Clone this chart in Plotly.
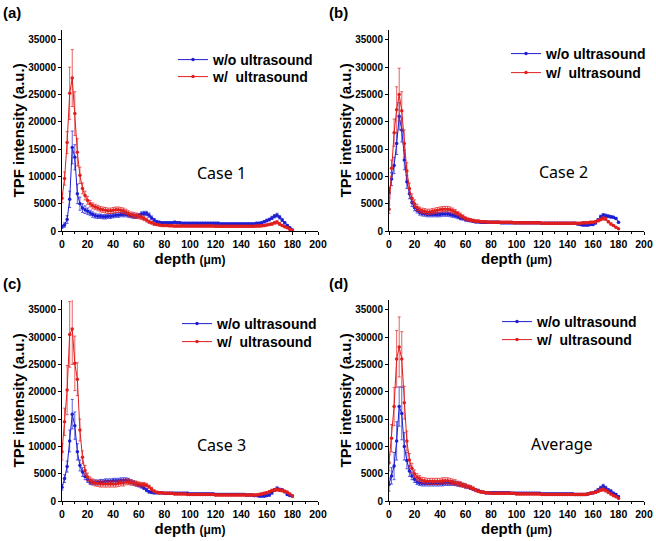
import plotly.graph_objects as go
from plotly.subplots import make_subplots

depth = list(range(0, 182, 2))

# panel (a) Case 1
a_wo = [800, 1100, 2100, 5800, 15300, 13500, 6800, 5000, 4200, 3900,
        3600, 3300, 3000, 2800, 2700, 2700, 2600, 2600, 2700, 2700,
        2800, 2900, 2900, 3000, 3000, 3000, 2900, 2800, 2700, 2700,
        2800, 3100, 3200, 3200, 2900, 2400, 2000, 1700, 1600, 1500,
        1500, 1500, 1500, 1500, 1600, 1500, 1500, 1400, 1400, 1400,
        1400, 1400, 1400, 1400, 1400, 1400, 1400, 1400, 1400, 1400,
        1400, 1400, 1300, 1300, 1300, 1300, 1300, 1300, 1300, 1300,
        1300, 1300, 1300, 1300, 1300, 1300, 1400, 1400, 1500, 1700,
        1900, 2100, 2400, 2700, 2900, 2500, 2000, 1500, 1000, 600,
        200]
a_wo_err = [300, 400, 700, 1500, 3000, 2300, 1800, 1200, 800, 700,
            600, 500, 500, 450, 400, 400, 400, 400, 400, 400,
            400, 400, 400, 400, 400, 400, 400, 400, 400, 400,
            400, 400, 400, 400, 400, 350, 300, 250, 200, 200,
            200, 200, 200, 200, 200, 200, 200, 200, 200, 200,
            200, 200, 200, 200, 200, 200, 200, 200, 200, 200,
            200, 200, 200, 200, 200, 200, 200, 200, 200, 200,
            200, 200, 200, 200, 200, 200, 200, 200, 200, 200,
            250, 250, 300, 300, 350, 300, 250, 200, 200, 150,
            100]
a_w = [6000, 9600, 16200, 25200, 28000, 21500, 14400, 10200, 7800, 6500,
       5600, 5000, 4600, 4400, 4200, 4000, 3900, 3800, 3700, 3700,
       3800, 3900, 3900, 3800, 3700, 3500, 3200, 3000, 2900, 2800,
       2700, 2500, 2300, 2000, 1700, 1500, 1300, 1200, 1100, 1000,
       1000, 1000, 950, 950, 900, 900, 900, 900, 900, 900,
       900, 900, 900, 900, 900, 900, 900, 900, 900, 900,
       850, 850, 850, 850, 850, 850, 850, 850, 850, 850,
       850, 850, 850, 850, 850, 850, 900, 900, 950, 1000,
       1100, 1200, 1300, 1500, 1600, 1300, 1000, 800, 600, 300,
       100]
a_w_err = [800, 1200, 2000, 4800, 5200, 4000, 2500, 1500, 1000, 800,
           700, 600, 550, 500, 500, 500, 500, 500, 500, 500,
           500, 500, 500, 500, 500, 500, 500, 500, 500, 500,
           450, 400, 400, 350, 300, 250, 250, 200, 200, 200,
           200, 200, 200, 200, 200, 200, 200, 200, 200, 200,
           200, 200, 200, 200, 200, 200, 200, 200, 200, 200,
           200, 200, 200, 200, 200, 200, 200, 200, 200, 200,
           200, 200, 200, 200, 200, 200, 200, 200, 200, 200,
           200, 200, 250, 250, 300, 250, 200, 200, 150, 100,
           100]

# panel (b) Case 2
b_wo = [7000, 9500, 12000, 16000, 21000, 18500, 13000, 9000, 6800, 5200,
        4300, 3800, 3400, 3200, 3100, 3000, 3000, 3000, 3000, 3000,
        3000, 3100, 3100, 3100, 3000, 2900, 2800, 2600, 2400, 2300,
        2100, 2000, 1900, 1800, 1700, 1700, 1600, 1600, 1600, 1600,
        1600, 1600, 1600, 1600, 1500, 1500, 1500, 1500, 1500, 1500,
        1500, 1500, 1500, 1500, 1500, 1500, 1500, 1500, 1500, 1500,
        1400, 1400, 1400, 1400, 1400, 1400, 1400, 1400, 1400, 1400,
        1400, 1400, 1400, 1400, 1300, 1200, 1100, 1100, 1100, 1200,
        1200, 1500, 2000, 2600, 2900, 2800, 2700, 2600, 2500, 2300,
        1600]
b_wo_err = [1000, 1200, 1500, 2000, 2500, 2200, 1800, 1200, 900, 700,
            600, 500, 500, 450, 400, 400, 400, 400, 400, 400,
            400, 400, 400, 400, 400, 400, 400, 350, 350, 300,
            300, 300, 250, 250, 250, 250, 200, 200, 200, 200,
            200, 200, 200, 200, 200, 200, 200, 200, 200, 200,
            200, 200, 200, 200, 200, 200, 200, 200, 200, 200,
            200, 200, 200, 200, 200, 200, 200, 200, 200, 200,
            200, 200, 200, 200, 200, 200, 200, 200, 200, 200,
            200, 250, 250, 300, 300, 300, 250, 250, 200, 200,
            150]
b_w = [4000, 11500, 18000, 22200, 25000, 22000, 16000, 11000, 7800, 6000,
       5000, 4300, 3900, 3700, 3600, 3500, 3500, 3600, 3700, 3800,
       3900, 4000, 4000, 4000, 3900, 3700, 3500, 3200, 2900, 2600,
       2300, 2100, 2000, 1900, 1800, 1800, 1700, 1700, 1700, 1600,
       1600, 1600, 1600, 1600, 1600, 1600, 1600, 1600, 1600, 1500,
       1500, 1500, 1500, 1500, 1500, 1500, 1500, 1500, 1500, 1500,
       1400, 1400, 1400, 1400, 1400, 1400, 1400, 1400, 1400, 1400,
       1400, 1400, 1400, 1400, 1400, 1400, 1500, 1500, 1500, 1600,
       1600, 1700, 1900, 2100, 2300, 2200, 1700, 1300, 1000, 700,
       400]
b_w_err = [800, 1500, 2500, 4200, 4800, 3500, 2500, 1500, 1000, 800,
           700, 600, 500, 500, 500, 500, 500, 500, 500, 500,
           500, 500, 500, 500, 500, 500, 450, 400, 400, 350,
           300, 300, 250, 250, 250, 250, 200, 200, 200, 200,
           200, 200, 200, 200, 200, 200, 200, 200, 200, 200,
           200, 200, 200, 200, 200, 200, 200, 200, 200, 200,
           200, 200, 200, 200, 200, 200, 200, 200, 200, 200,
           200, 200, 200, 200, 200, 200, 200, 200, 200, 200,
           200, 200, 250, 250, 300, 250, 200, 200, 150, 100,
           100]

# panel (c) Case 3
c_wo = [2500, 4100, 6300, 11000, 15900, 13800, 9000, 6500, 5300, 4500,
        3900, 3500, 3400, 3400, 3400, 3500, 3500, 3600, 3600, 3600,
        3700, 3700, 3700, 3800, 3800, 3800, 3700, 3500, 3300, 3100,
        2900, 2700, 2400, 2000, 1700, 1600, 1500, 1500, 1500, 1500,
        1400, 1400, 1400, 1400, 1400, 1400, 1400, 1400, 1400, 1400,
        1300, 1300, 1300, 1300, 1300, 1300, 1300, 1300, 1300, 1300,
        1200, 1200, 1200, 1200, 1200, 1200, 1200, 1200, 1200, 1200,
        1200, 1200, 1100, 1100, 1100, 1000, 1000, 900, 900, 900,
        1000, 1100, 1500, 2000, 2300, 2100, 2000, 1700, 1200, 1000,
        900]
c_wo_err = [500, 700, 1000, 2000, 2700, 2500, 1500, 1000, 800, 600,
            500, 500, 450, 450, 450, 450, 450, 450, 450, 450,
            450, 450, 450, 450, 450, 450, 450, 400, 400, 400,
            350, 350, 300, 300, 250, 250, 200, 200, 200, 200,
            200, 200, 200, 200, 200, 200, 200, 200, 200, 200,
            200, 200, 200, 200, 200, 200, 200, 200, 200, 200,
            200, 200, 200, 200, 200, 200, 200, 200, 200, 200,
            200, 200, 200, 200, 200, 200, 200, 200, 200, 200,
            200, 200, 250, 250, 300, 250, 250, 200, 200, 150,
            150]
c_w = [9000, 14500, 20300, 30500, 31500, 25200, 22300, 13000, 8000, 5600,
       4400, 3800, 3500, 3300, 3200, 3100, 3100, 3100, 3100, 3100,
       3100, 3100, 3200, 3300, 3300, 3500, 3500, 3400, 3300, 3200,
       3100, 3000, 3000, 2900, 2600, 2200, 1800, 1600, 1500, 1500,
       1400, 1400, 1400, 1400, 1300, 1300, 1300, 1300, 1300, 1200,
       1200, 1200, 1200, 1200, 1200, 1200, 1200, 1200, 1200, 1200,
       1100, 1100, 1100, 1100, 1100, 1100, 1100, 1100, 1100, 1100,
       1100, 1100, 1100, 1100, 1100, 1100, 1100, 1200, 1300, 1400,
       1500, 1700, 1900, 2000, 2100, 2000, 1900, 1800, 1600, 1300,
       900]
c_w_err = [1500, 2500, 4500, 6000, 6500, 5000, 3000, 2000, 1200, 900,
           700, 600, 550, 550, 550, 550, 550, 550, 550, 550,
           550, 550, 550, 550, 550, 550, 500, 500, 450, 450,
           400, 400, 400, 350, 300, 300, 250, 200, 200, 200,
           200, 200, 200, 200, 200, 200, 200, 200, 200, 200,
           200, 200, 200, 200, 200, 200, 200, 200, 200, 200,
           200, 200, 200, 200, 200, 200, 200, 200, 200, 200,
           200, 200, 200, 200, 200, 200, 200, 200, 200, 200,
           200, 200, 250, 250, 300, 250, 250, 200, 200, 150,
           150]

# panel (d) Average
d_wo = [3000, 4600, 6400, 11000, 17300, 16000, 10000, 7400, 5500, 4600,
        4000, 3500, 3300, 3200, 3200, 3200, 3200, 3200, 3200, 3200,
        3200, 3200, 3300, 3300, 3300, 3300, 3200, 3100, 3000, 2900,
        2700, 2600, 2400, 2200, 2000, 1900, 1700, 1600, 1500, 1500,
        1500, 1500, 1500, 1500, 1500, 1500, 1500, 1500, 1400, 1400,
        1400, 1400, 1400, 1400, 1400, 1400, 1400, 1400, 1400, 1400,
        1300, 1300, 1300, 1300, 1300, 1300, 1300, 1300, 1300, 1300,
        1300, 1300, 1300, 1200, 1200, 1200, 1200, 1200, 1300, 1400,
        1500, 1700, 2000, 2400, 2700, 2400, 2000, 1800, 1400, 1200,
        800]
d_wo_err = [1200, 1500, 2500, 3500, 3600, 4800, 2500, 1500, 1000, 700,
            600, 500, 450, 450, 450, 450, 450, 450, 450, 450,
            450, 450, 450, 450, 450, 450, 400, 400, 400, 350,
            350, 300, 300, 250, 250, 250, 200, 200, 200, 200,
            200, 200, 200, 200, 200, 200, 200, 200, 200, 200,
            200, 200, 200, 200, 200, 200, 200, 200, 200, 200,
            200, 200, 200, 200, 200, 200, 200, 200, 200, 200,
            200, 200, 200, 200, 200, 200, 200, 200, 200, 200,
            200, 250, 300, 300, 350, 300, 250, 250, 200, 200,
            200]
d_w = [7000, 11500, 17300, 26000, 28200, 26000, 18000, 11000, 7500, 6000,
       5000, 4400, 4100, 3800, 3700, 3600, 3600, 3600, 3600, 3600,
       3600, 3700, 3700, 3700, 3600, 3500, 3400, 3200, 3100, 2900,
       2800, 2600, 2500, 2300, 2000, 1800, 1700, 1600, 1500, 1500,
       1400, 1400, 1400, 1400, 1400, 1400, 1400, 1400, 1400, 1400,
       1300, 1300, 1300, 1300, 1300, 1300, 1300, 1300, 1300, 1300,
       1200, 1200, 1200, 1200, 1200, 1200, 1200, 1200, 1200, 1200,
       1200, 1200, 1200, 1200, 1200, 1200, 1200, 1200, 1300, 1400,
       1500, 1600, 1800, 2000, 2100, 1900, 1600, 1300, 1000, 800,
       500]
d_w_err = [1500, 2500, 3500, 5200, 5500, 5000, 3000, 1800, 1200, 900,
           700, 600, 550, 550, 550, 550, 550, 550, 550, 550,
           550, 550, 550, 550, 550, 500, 500, 450, 450, 400,
           400, 350, 350, 300, 300, 250, 250, 200, 200, 200,
           200, 200, 200, 200, 200, 200, 200, 200, 200, 200,
           200, 200, 200, 200, 200, 200, 200, 200, 200, 200,
           200, 200, 200, 200, 200, 200, 200, 200, 200, 200,
           200, 200, 200, 200, 200, 200, 200, 200, 200, 200,
           200, 200, 250, 250, 300, 250, 250, 200, 200, 150,
           150]

panels = [
    ("(a)", "Case 1", a_wo, a_wo_err, a_w, a_w_err),
    ("(b)", "Case 2", b_wo, b_wo_err, b_w, b_w_err),
    ("(c)", "Case 3", c_wo, c_wo_err, c_w, c_w_err),
    ("(d)", "Average", d_wo, d_wo_err, d_w, d_w_err),
]

BLUE = "rgb(30,30,210)"
RED = "rgb(225,30,30)"
FONT = "Liberation Sans"
W, H = 656, 541

# plot area pixel boxes (left, right, top, bottom)
boxes = [(62, 318, 30, 231), (389, 644, 30, 231),
         (62, 318, 300, 501), (389, 644, 300, 501)]
# legend text start x and centre y of each entry (w/o, w/)
legend_pos = [((213, 59), (213, 76)), ((546, 53), (546, 72)),
              ((217, 323), (217, 341)), ((537, 321), (537, 339))]
label_pos = [(1, 13), (327, 13), (1, 283), (327, 283)]
case_pos = [(221, 173), (563, 172), (221, 445), (562, 444)]
ytitle_x = [18, 345, 18, 345]

fig = make_subplots(rows=2, cols=2)

for i, (tag, case, wo, wo_err, w, w_err) in enumerate(panels):
    row, col = i // 2 + 1, i % 2 + 1
    entries = [("w/o ultrasound", wo, wo_err, BLUE),
               ("w/  ultrasound", w, w_err, RED)]
    for j, (name, ys, err, color) in enumerate(entries):
        k = 2 * i + j + 1
        leg = "legend" if k == 1 else f"legend{k}"
        fig.add_trace(go.Scatter(
            x=depth, y=ys, name=name, mode="lines+markers",
            line=dict(color=color, width=1),
            marker=dict(color=color, size=3.5, symbol="circle"),
            error_y=dict(type="data", array=err, color=color,
                         thickness=0.7, width=1.5),
            legend=leg, showlegend=True,
        ), row=row, col=col)
        tx, ty = legend_pos[i][j]
        fig.layout[leg] = dict(
            x=(tx - 40) / W, y=1 - (ty - 15) / H, xanchor="left", yanchor="top",
            bgcolor="rgba(0,0,0,0)", itemwidth=30, visible=True,
            font=dict(family=FONT, size=14, color="black", weight="bold"),
        )

    l, r, t, b = boxes[i]
    ax = "" if i == 0 else str(i + 1)
    fig.layout["xaxis" + ax].update(
        domain=[l / W, r / W], range=[0, 200], dtick=20, automargin=False,
        showline=True, linecolor="black", linewidth=1,
        ticks="outside", ticklen=3, tickcolor="black",
        minor=dict(dtick=10, ticks="outside", ticklen=2, tickcolor="black"),
        showgrid=False, zeroline=False,
        tickfont=dict(family=FONT, size=10.5, color="black", weight="bold"),
        title=dict(text="depth <span style='font-size:12px'>(μm)</span>",
                   font=dict(family=FONT, size=15, color="black", weight="bold"),
                   standoff=0),
    )
    fig.layout["yaxis" + ax].update(
        domain=[(H - b) / H, (H - t) / H], range=[0, 36800], dtick=5000,
        tickformat="d", automargin=False,
        showline=True, linecolor="black", linewidth=1,
        ticks="outside", ticklen=3, tickcolor="black",
        showgrid=False, zeroline=False,
        tickfont=dict(family=FONT, size=10, color="black", weight="bold"),
    )

    # y axis title placed as rotated text
    fig.add_annotation(text="TPF intensity (a.u.)", textangle=-90,
                       x=ytitle_x[i] / W, y=1 - (t + b) / 2 / H,
                       xref="paper", yref="paper", xanchor="center",
                       yanchor="middle", showarrow=False,
                       font=dict(family=FONT, size=15, color="black", weight="bold"))

    px_, py_ = label_pos[i]
    fig.add_annotation(text=tag, x=px_ / W, y=1 - py_ / H, xref="paper",
                       yref="paper", xanchor="left", yanchor="middle",
                       showarrow=False,
                       font=dict(family=FONT, size=15, color="black", weight="bold"))
    cx, cy = case_pos[i]
    fig.add_annotation(text=case, x=cx / W, y=1 - cy / H, xref="paper",
                       yref="paper", xanchor="center", yanchor="middle",
                       showarrow=False,
                       font=dict(family="Noto Sans", size=16, color="black"))

fig.update_layout(
    width=W, height=H, margin=dict(l=0, r=0, t=0, b=0),
    plot_bgcolor="white", paper_bgcolor="white", showlegend=True,
)

fig.write_html("out.html", config={"displayModeBar": False},
               post_script="document.body.style.margin = '0';")
